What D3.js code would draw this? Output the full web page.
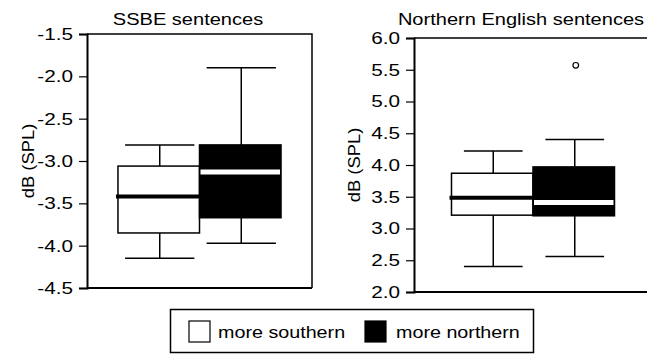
<!DOCTYPE html>
<html>
<head>
<meta charset="utf-8">
<script src="https://cdn.jsdelivr.net/npm/d3@7"></script>
<style>
  body { margin: 0; background: #fff; }
  text { font-family: "Liberation Sans", Arial, sans-serif; fill: #000; }
</style>
</head>
<body>
<svg id="chart"></svg>
<script>
// groups (legend order)
let groups = ["more southern", "more northern"]
let groupFill = ["#fff", "#000"]

// SSBE sentences
let ssbeLow = [-4.15, -3.97]
let ssbeQ1 = [-3.85, -3.67]
let ssbeMedian = [-3.42, -3.13]
let ssbeQ3 = [-3.06, -2.81]
let ssbeHigh = [-2.81, -1.90]
let ssbeOutliers = []
let ssbeTicks = [-1.5, -2.0, -2.5, -3.0, -3.5, -4.0, -4.5]

// Northern English sentences
let northLow = [2.40, 2.56]
let northQ1 = [3.21, 3.20]
let northMedian = [3.485, 3.41]
let northQ3 = [3.87, 3.97]
let northHigh = [4.22, 4.40]
let northOutliers = [{ group: "more northern", value: 5.57 }]
let northTicks = [2.0, 2.5, 3.0, 3.5, 4.0, 4.5, 5.0, 5.5, 6.0]

let width = 647
let height = 354
let fontSize = "17px"

let svg = d3.select("#chart").attr("width", width).attr("height", height)

// the scanned figure has slightly wide lettering, so text gets a horizontal stretch
let addText = (parent, x, y, str, sx, anchor) => {
  return parent.append("text")
    .attr("transform", "scale(" + sx + ",1)")
    .attr("x", x / sx)
    .attr("y", y)
    .attr("text-anchor", anchor || "start")
    .style("font-size", fontSize)
    .text(str)
}

let drawPanel = (opts) => {
  let yScale = d3.scaleLinear()
    .domain(d3.extent(opts.ticks))
    .range([opts.bottom, opts.top])

  let xScale = d3.scaleBand()
    .domain(groups)
    .range([opts.left, opts.right])
    .paddingInner(0)
    .paddingOuter(opts.outer)

  let g = svg.append("g")

  // frame (top + right)
  g.append("path")
    .attr("d", "M" + opts.left + "," + opts.top + "H" + opts.right + "V" + opts.bottom)
    .attr("fill", "none").attr("stroke", "#000").attr("stroke-width", 1.5)

  let bw = xScale.bandwidth()
  let rows = groups.map((name, i) => ({
    name: name, i: i,
    low: opts.low[i], q1: opts.q1[i], med: opts.med[i], q3: opts.q3[i], high: opts.high[i]
  }))

  // whiskers
  rows.forEach(d => {
    let cx = xScale(d.name) + bw / 2 + 1
    let cap = bw * opts.cap / 2
    g.append("line").attr("x1", cx).attr("x2", cx)
      .attr("y1", yScale(d.high)).attr("y2", yScale(d.low))
      .attr("stroke", "#000").attr("stroke-width", 1.5)
    ;[d.high, d.low].forEach(v => {
      g.append("line").attr("x1", cx - cap).attr("x2", cx + cap)
        .attr("y1", yScale(v)).attr("y2", yScale(v))
        .attr("stroke", "#000").attr("stroke-width", 1.5)
    })
  })

  // boxes
  g.selectAll("rect.box")
    .data(rows)
    .enter()
    .append("rect")
    .attr("class", "box")
    .attr("x", d => xScale(d.name))
    .attr("width", bw)
    .attr("y", d => yScale(d.q3))
    .attr("height", d => yScale(d.q1) - yScale(d.q3))
    .attr("fill", d => groupFill[d.i])
    .attr("stroke", "#000")
    .attr("stroke-width", 1.5)

  // medians
  rows.forEach(d => {
    let white = d.i === 1
    g.append("line")
      .attr("x1", xScale(d.name) + (white ? 1 : -2))
      .attr("x2", xScale(d.name) + bw - (white ? 1 : 0))
      .attr("y1", yScale(d.med)).attr("y2", yScale(d.med))
      .attr("stroke", white ? "#fff" : "#000")
      .attr("stroke-width", white ? 5 : 4)
  })

  // outliers
  g.selectAll("circle.out")
    .data(opts.outliers)
    .enter()
    .append("circle")
    .attr("cx", d => xScale(d.group) + bw / 2 + 2)
    .attr("cy", d => yScale(d.value))
    .attr("r", 2.8)
    .attr("fill", "#fff")
    .attr("stroke", "#000")
    .attr("stroke-width", 1.2)

  // axes
  let yAxis = d3.axisLeft(yScale)
    .tickValues(opts.ticks)
    .tickFormat(d => d.toFixed(1))
    .tickSize(8)
    .tickPadding(6)
  let ya = g.append("g")
    .attr("transform", "translate(" + opts.left + ",0)")
    .call(yAxis)
  ya.select(".domain").attr("stroke-width", 2)
  ya.selectAll(".tick line").attr("stroke-width", 1.2)
  ya.selectAll(".tick text")
    .style("font-size", fontSize)
    .attr("fill", "#000")
    .attr("transform", "scale(1.22,1)")
    .attr("x", -14 / 1.22)

  g.append("line")
    .attr("x1", opts.left).attr("x2", opts.right)
    .attr("y1", opts.bottom).attr("y2", opts.bottom)
    .attr("stroke", "#000").attr("stroke-width", 2)

  // y label
  g.append("text")
    .attr("transform", "translate(" + opts.labelX + "," + ((opts.top + opts.bottom) / 2) + ") rotate(-90) scale(1.08,1)")
    .attr("text-anchor", "middle")
    .style("font-size", fontSize)
    .text("dB (SPL)")

  // title
  addText(g, opts.titleX, 25, opts.title, 1.18, "middle")
}

drawPanel({
  title: "SSBE sentences", titleX: 188,
  left: 87, right: 312, top: 34, bottom: 288, outer: 0.38, cap: 0.85, labelX: 34,
  ticks: ssbeTicks, low: ssbeLow, q1: ssbeQ1, med: ssbeMedian, q3: ssbeQ3, high: ssbeHigh,
  outliers: ssbeOutliers
})

drawPanel({
  title: "Northern English sentences", titleX: 521,
  left: 414, right: 652, top: 38, bottom: 292, outer: 0.46, cap: 0.72, labelX: 360,
  ticks: northTicks, low: northLow, q1: northQ1, med: northMedian, q3: northQ3, high: northHigh,
  outliers: northOutliers
})

// legend
let legend = svg.append("g")
legend.append("rect")
  .attr("x", 170.5).attr("y", 309.5).attr("width", 363).attr("height", 43)
  .attr("fill", "#fff").attr("stroke", "#000").attr("stroke-width", 1.5)

let legendX = [189, 365]
let legendTextX = [218, 396]
groups.forEach((name, i) => {
  legend.append("rect")
    .attr("x", legendX[i]).attr("y", 321).attr("width", 21).attr("height", 21)
    .attr("fill", groupFill[i]).attr("stroke", "#000").attr("stroke-width", 1.2)
  addText(legend, legendTextX[i], 338, name, 1.16)
})
</script>
</body>
</html>
